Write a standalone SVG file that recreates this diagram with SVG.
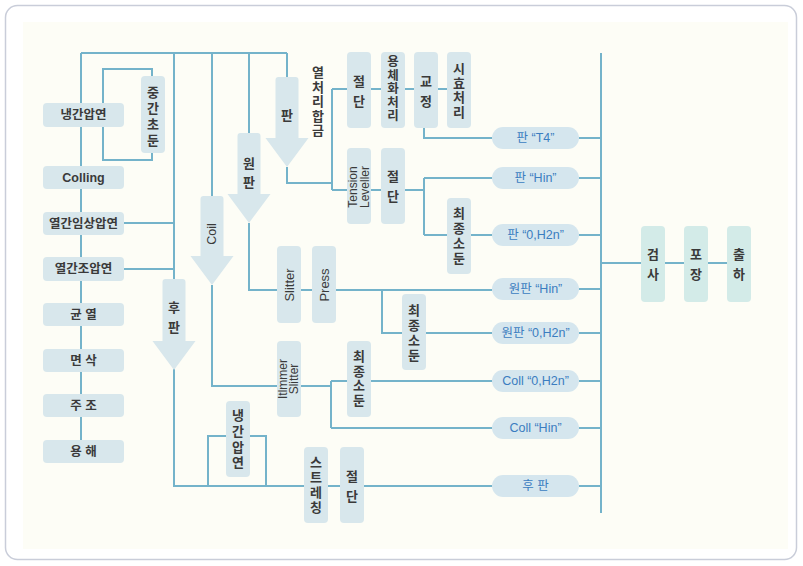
<svg xmlns="http://www.w3.org/2000/svg" width="803" height="566" viewBox="0 0 803 566">
<style>
.ln{fill:none;stroke:#74b3ca;stroke-width:2}
.bx{fill:#d8e7ec}
.bg{fill:#d3ebe8}
.ar{fill:#d8e7ec}
.pl{fill:#d5e6ee}
.t{font-family:"Liberation Sans","Noto Sans CJK KR",sans-serif;font-size:12.5px;font-weight:bold;fill:#3a3a3a;text-anchor:middle;dominant-baseline:central}
.v{font-family:"Liberation Sans","Noto Sans CJK KR",sans-serif;font-size:13px;font-weight:bold;fill:#3a3a3a;text-anchor:middle;dominant-baseline:central}
.e{font-family:"Liberation Sans","Noto Sans CJK KR",sans-serif;font-size:12.5px;fill:#3a3a3a;text-anchor:middle;dominant-baseline:central}
.p{font-family:"Liberation Sans","Noto Sans CJK KR",sans-serif;font-size:12.5px;fill:#3b7dc0;text-anchor:middle;dominant-baseline:central}
</style>
<rect x="5.5" y="5.5" width="791" height="554" rx="12" fill="#ffffff" stroke="#c9cdd9" stroke-width="1.5"/>
<rect x="23" y="22" width="765" height="527" fill="#fdfdf6"/>

<g id="connectors">
<path class="ln" d="M81,53 H287 M81,53 V452"/>
<path class="ln" d="M103,69 H152 V160 H103 Z"/>
<path class="ln" d="M124,223 H174 M124,269 H174 M174,53 V486 H492"/>
<path class="ln" d="M212,53 V200 M212,285 V386 H331 M331,381 V428 M331,381 H492 M331,428 H492"/>
<path class="ln" d="M249,53 V140 M249,223 V290 H492 M382,290 V333 H492"/>
<path class="ln" d="M287,53 V80 M287,167 V183 H332 M332,89 V190 M332,89 H460 M332,190 H424 M424,128 V138 H492 M424,178 V235 M424,178 H492 M424,235 H492"/>
<path class="ln" d="M208,486 V436 H266 V486"/>
<path class="ln" d="M601,53 V513 M579,138 H601 M579,178 H601 M579,235 H601 M579,289 H601 M579,333 H601 M579,381 H601 M579,428 H601 M579,486 H601 M601,263 H727"/>
</g>

<g id="arrow-pan">
<path class="ar" d="M278.5,77 H295.5 Q298.5,77 298.5,80 V138 H308.5 L287,167 L265.5,138 H275.5 V80 Q275.5,77 278.5,77 Z"/>
<text class="v" x="287" y="115">판</text>
</g>
<g id="arrow-wonpan">
<path class="ar" d="M240.5,133 H257.5 Q260.5,133 260.5,136 V194 H270.5 L249,223 L227.5,194 H237.5 V136 Q237.5,133 240.5,133 Z"/>
<text class="v" x="249"><tspan x="249" y="163">원</tspan><tspan x="249" y="182">판</tspan></text>
</g>
<g id="arrow-coil">
<path class="ar" d="M203.5,196 H220.5 Q223.5,196 223.5,199 V256 H233.5 L212,285 L190.5,256 H200.5 V199 Q200.5,196 203.5,196 Z"/>
<text class="e" transform="translate(212,234) rotate(-90)">Coil</text>
</g>
<g id="arrow-hupan">
<path class="ar" d="M165.5,279 H182.5 Q185.5,279 185.5,282 V341 H195.5 L174,370 L152.5,341 H162.5 V282 Q162.5,279 165.5,279 Z"/>
<text class="v" x="174"><tspan x="174" y="307">후</tspan><tspan x="174" y="327">판</tspan></text>
</g>

<g id="n-naenggan"><rect class="bx" x="43" y="103" width="81" height="24" rx="4"/><text class="t" x="83.5" y="115">냉간압연</text></g>
<g id="n-colling"><rect class="bx" x="43" y="166" width="81" height="23" rx="4"/><text class="t" x="83.5" y="177.5">Colling</text></g>
<g id="n-yeolgan-imsang"><rect class="bx" x="43" y="212" width="81" height="23" rx="4"/><text class="t" x="83.5" y="223.5">열간임상압연</text></g>
<g id="n-yeolgan-jo"><rect class="bx" x="43" y="257" width="81" height="24" rx="4"/><text class="t" x="83.5" y="269">열간조압연</text></g>
<g id="n-gyunyeol"><rect class="bx" x="43" y="303" width="81" height="23" rx="4"/><text class="t" x="83.5" y="314.5">균 열</text></g>
<g id="n-myeonsak"><rect class="bx" x="43" y="349" width="81" height="23" rx="4"/><text class="t" x="83.5" y="360.5">면 삭</text></g>
<g id="n-jujo"><rect class="bx" x="43" y="394" width="81" height="23" rx="4"/><text class="t" x="83.5" y="405.5">주 조</text></g>
<g id="n-yonghae"><rect class="bx" x="43" y="440" width="81" height="23" rx="4"/><text class="t" x="83.5" y="451.5">용 해</text></g>

<g id="n-junggan-chodun"><rect class="bx" x="141" y="76" width="24" height="77" rx="4"/><text class="v"><tspan x="153" y="92">중</tspan><tspan x="153" y="108">간</tspan><tspan x="153" y="124">초</tspan><tspan x="153" y="140">둔</tspan></text></g>

<g id="n-yeolcheori"><text class="v"><tspan x="318" y="72">열</tspan><tspan x="318" y="86.5">처</tspan><tspan x="318" y="101">리</tspan><tspan x="318" y="115.5">합</tspan><tspan x="318" y="130">금</tspan></text></g>

<g id="n-jeoldan1"><rect class="bx" x="347" y="52" width="24" height="76" rx="4"/><text class="v"><tspan x="359" y="81">절</tspan><tspan x="359" y="101">단</tspan></text></g>
<g id="n-yongche"><rect class="bx" x="381" y="52" width="24" height="76" rx="4"/><text class="v" style="font-size:12.5px"><tspan x="393" y="62">용</tspan><tspan x="393" y="75.5">체</tspan><tspan x="393" y="89">화</tspan><tspan x="393" y="102.5">처</tspan><tspan x="393" y="116">리</tspan></text></g>
<g id="n-gyojeong"><rect class="bx" x="414" y="52" width="24" height="76" rx="4"/><text class="v"><tspan x="426" y="81">교</tspan><tspan x="426" y="101">정</tspan></text></g>
<g id="n-sihyo"><rect class="bx" x="447" y="52" width="24" height="76" rx="4"/><text class="v"><tspan x="459" y="68">시</tspan><tspan x="459" y="82.5">효</tspan><tspan x="459" y="97">처</tspan><tspan x="459" y="111.5">리</tspan></text></g>

<g id="n-tension"><rect class="bx" x="347" y="148" width="24" height="76" rx="4"/><text class="e" style="font-size:12px" transform="translate(353,187) rotate(-90)">Tension</text><text class="e" style="font-size:12px" transform="translate(365,187) rotate(-90)">Leveller</text></g>
<g id="n-jeoldan2"><rect class="bx" x="381" y="148" width="24" height="76" rx="4"/><text class="v"><tspan x="393" y="176">절</tspan><tspan x="393" y="196">단</tspan></text></g>
<g id="n-choejong1"><rect class="bx" x="447" y="198" width="24" height="76" rx="4"/><text class="v"><tspan x="459" y="213">최</tspan><tspan x="459" y="228">종</tspan><tspan x="459" y="243">소</tspan><tspan x="459" y="258">둔</tspan></text></g>

<g id="n-slitter"><rect class="bx" x="277" y="246" width="24" height="77" rx="4"/><text class="e" style="font-size:13px" transform="translate(289,285) rotate(-90)">Slitter</text></g>
<g id="n-press"><rect class="bx" x="312" y="246" width="24" height="77" rx="4"/><text class="e" style="font-size:13px" transform="translate(324,285) rotate(-90)">Press</text></g>
<g id="n-choejong2"><rect class="bx" x="402" y="294" width="24" height="76" rx="4"/><text class="v"><tspan x="414" y="310">최</tspan><tspan x="414" y="325">종</tspan><tspan x="414" y="340">소</tspan><tspan x="414" y="355">둔</tspan></text></g>

<g id="n-itlmmer"><rect class="bx" x="277" y="341" width="24" height="76" rx="4"/><text class="e" style="font-size:12px" transform="translate(283,379) rotate(-90)">Itlmmer</text><text class="e" style="font-size:12px" transform="translate(294,379) rotate(-90)">Slitter</text></g>
<g id="n-choejong3"><rect class="bx" x="347" y="341" width="24" height="76" rx="4"/><text class="v"><tspan x="359" y="356">최</tspan><tspan x="359" y="370.5">종</tspan><tspan x="359" y="385">소</tspan><tspan x="359" y="399.5">둔</tspan></text></g>

<g id="n-naenggan2"><rect class="bx" x="226" y="401" width="24" height="76" rx="4"/><text class="v"><tspan x="238" y="415">냉</tspan><tspan x="238" y="431">간</tspan><tspan x="238" y="447">압</tspan><tspan x="238" y="462">연</tspan></text></g>
<g id="n-stretching"><rect class="bx" x="304" y="447" width="24" height="76" rx="4"/><text class="v"><tspan x="316" y="462">스</tspan><tspan x="316" y="477">트</tspan><tspan x="316" y="492">레</tspan><tspan x="316" y="507">칭</tspan></text></g>
<g id="n-jeoldan3"><rect class="bx" x="340" y="447" width="24" height="76" rx="4"/><text class="v"><tspan x="352" y="476">절</tspan><tspan x="352" y="496">단</tspan></text></g>

<g id="p-pan-t4"><rect class="pl" x="492" y="127" width="87" height="22" rx="11"/><text class="p" x="535.5" y="138">판 “T4”</text></g>
<g id="p-pan-hin"><rect class="pl" x="492" y="167" width="87" height="22" rx="11"/><text class="p" x="535.5" y="178">판 “Hin”</text></g>
<g id="p-pan-h2n"><rect class="pl" x="492" y="224" width="87" height="22" rx="11"/><text class="p" x="535.5" y="235">판 “0,H2n”</text></g>
<g id="p-wonpan-hin"><rect class="pl" x="492" y="278" width="87" height="22" rx="11"/><text class="p" x="535.5" y="289">원판 “Hin”</text></g>
<g id="p-wonpan-h2n"><rect class="pl" x="492" y="322" width="87" height="22" rx="11"/><text class="p" x="535.5" y="333">원판 “0,H2n”</text></g>
<g id="p-coil-h2n"><rect class="pl" x="492" y="370" width="87" height="22" rx="11"/><text class="p" x="535.5" y="381">Coll “0,H2n”</text></g>
<g id="p-coil-hin"><rect class="pl" x="492" y="417" width="87" height="22" rx="11"/><text class="p" x="535.5" y="428">Coll “Hin”</text></g>
<g id="p-hupan"><rect class="pl" x="492" y="475" width="87" height="22" rx="11"/><text class="p" x="535.5" y="486">후 판</text></g>

<g id="n-geomsa"><rect class="bg" x="641" y="226" width="24" height="76" rx="4"/><text class="v"><tspan x="653" y="254">검</tspan><tspan x="653" y="274">사</tspan></text></g>
<g id="n-pojang"><rect class="bg" x="684" y="226" width="24" height="76" rx="4"/><text class="v"><tspan x="696" y="254">포</tspan><tspan x="696" y="274">장</tspan></text></g>
<g id="n-chulha"><rect class="bg" x="727" y="226" width="24" height="76" rx="4"/><text class="v"><tspan x="739" y="254">출</tspan><tspan x="739" y="274">하</tspan></text></g>
</svg>
